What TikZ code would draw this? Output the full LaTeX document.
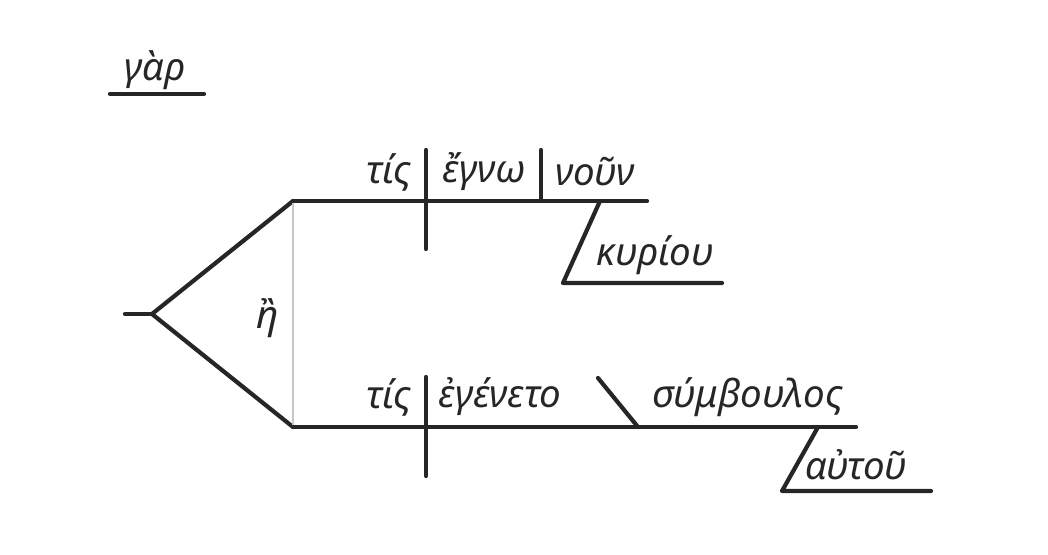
\documentclass[tikz,border=0pt]{standalone}
\usepackage{fontspec}
\setmainfont{Noto Sans}
\usetikzlibrary{positioning,calc}
\definecolor{linecolor}{RGB}{38,38,38}

\tikzset{
  diag/.style={line width=4.2pt, linecolor, line cap=round, line join=round},
  conj/.style={line width=2.5pt, black!22},
  word/.style={font=\fontsize{38.5}{44}\selectfont\itshape, inner sep=0pt, text=linecolor}
}

\begin{document}
\begin{tikzpicture}[x=1pt,y=-1pt]
\useasboundingbox (0,0) rectangle (1048,554);

% ================= CONJUNCTION =================
\coordinate (gs) at (110,94);
\coordinate (ge) at (204,94);
\draw[diag] (gs) -- (ge);
\node[word] (gar) at (155,70) {γὰρ};

% ================= FORK =================
\coordinate (stub) at (125,314);
\coordinate (fork) at (152,314);
\coordinate (up) at (293,201);
\coordinate (lo) at (293,427);
\draw[diag] (stub) -- (fork);
\draw[diag] (fork) -- (up);
\draw[diag] (fork) -- (lo);
\draw[conj] (up) -- (lo);
\node[word] (e) at (268,318) {ἢ};

% ================= UPPER CLAUSE =================
\coordinate (uend) at (647,201);
\coordinate (us1) at (426,150);
\coordinate (us2) at (426,249);
\coordinate (uv1) at (541,150);
\coordinate (uv2) at (541,201);
\coordinate (um1) at (600,201);
\coordinate (um2) at (563,283);
\coordinate (um3) at (722,283);
\draw[diag] (up) -- (uend);
\draw[diag] (us1) -- (us2);
\draw[diag] (uv1) -- (uv2);
\draw[diag] (um1) -- (um2) -- (um3);

\node[word] (tis1) at (389,172) {τίς};
\node[word] (egno) at (484,172) {ἔγνω};
\node[word] (noun) at (595,172) {νοῦν};
\node[word] (kyriou) at (655,255) {κυρίου};

% ================= LOWER CLAUSE =================
\coordinate (lend) at (856,427);
\coordinate (ls1) at (426,377);
\coordinate (ls2) at (426,476);
\coordinate (lp1) at (598,378);
\coordinate (lp2) at (638,427);
\coordinate (lm1) at (818,427);
\coordinate (lm2) at (782,491);
\coordinate (lm3) at (931,491);
\draw[diag] (lo) -- (lend);
\draw[diag] (ls1) -- (ls2);
\draw[diag] (lp1) -- (lp2);
\draw[diag] (lm1) -- (lm2) -- (lm3);

\node[word] (tis2) at (389,397) {τίς};
\node[word] (egeneto) at (500,397) {ἐγένετο};
\node[word] (symboulos) at (748,397) {σύμβουλος};
\node[word] (autou) at (856,465) {αὐτοῦ};

\end{tikzpicture}
\end{document}
